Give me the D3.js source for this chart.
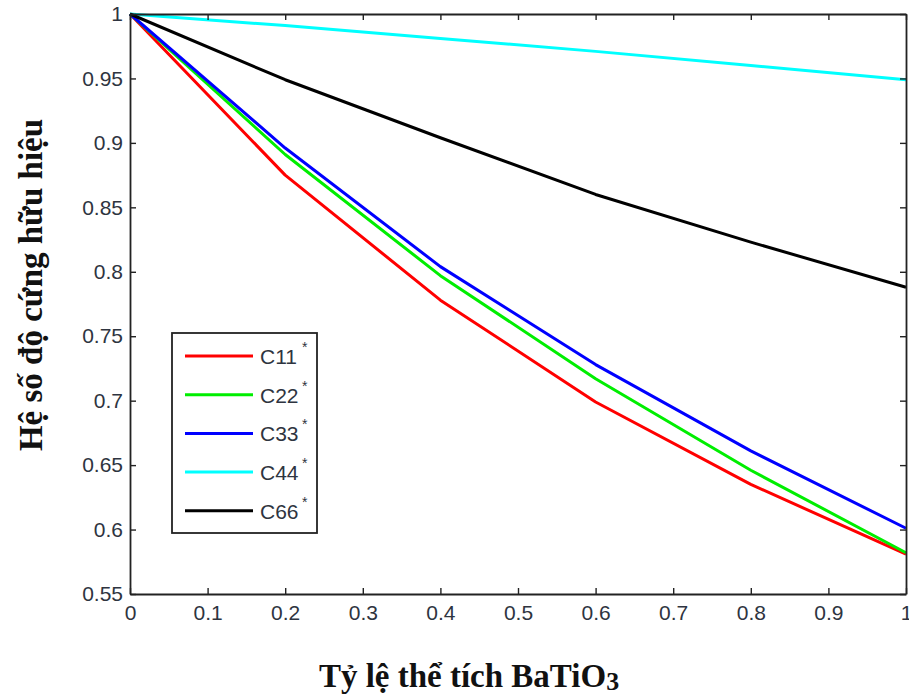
<!DOCTYPE html>
<html>
<head>
<meta charset="utf-8">
<script src="https://cdn.jsdelivr.net/npm/d3@7"></script>
<style>
  html, body { margin: 0; padding: 0; background: #fff; }
  svg { display: block; }
</style>
</head>
<body>
<svg id="chart" width="909" height="697"></svg>
<script>
// ---- Data ----
const xValues = [0, 0.2, 0.4, 0.6, 0.8, 1.0];
const seriesNames = ["C11", "C22", "C33", "C44", "C66"];
const seriesColors = ["#ff0000", "#00ee00", "#0000ff", "#00ffff", "#000000"];
const c11 = [1, 0.875, 0.778, 0.699, 0.635, 0.581];
const c22 = [1, 0.891, 0.797, 0.717, 0.646, 0.582];
const c33 = [1, 0.896, 0.804, 0.728, 0.661, 0.601];
const c44 = [1, 0.991, 0.981, 0.971, 0.960, 0.949];
const c66 = [1, 0.949, 0.904, 0.860, 0.823, 0.788];
const xTicks = [0, 0.1, 0.2, 0.3, 0.4, 0.5, 0.6, 0.7, 0.8, 0.9, 1];
const yTicks = [0.55, 0.6, 0.65, 0.7, 0.75, 0.8, 0.85, 0.9, 0.95, 1];
const xTitle = "Tỷ lệ thể tích BaTiO";
const xTitleSub = "3";
const yTitle = "Hệ số độ cứng hữu hiệu";

const allSeries = [c11, c22, c33, c44, c66];

// ---- Layout ----
const svg = d3.select("#chart");
const L = 130, R = 906, T = 14, B = 594;
const x = d3.scaleLinear().domain([0, 1]).range([L, R]);
const y = d3.scaleLinear().domain([0.55, 1]).range([B, T]);
const axisColor = "#222";
const labelColor = "#2e3440";
const tickFont = "Liberation Sans, Arial, sans-serif";

// Lines
const line = d3.line().x((d, i) => x(xValues[i])).y(d => y(d));
const plot = svg.append("g");
allSeries.forEach((s, k) => {
  plot.append("path")
    .datum(s)
    .attr("d", line)
    .attr("fill", "none")
    .attr("stroke", seriesColors[k])
    .attr("stroke-width", 3)
    .attr("stroke-linejoin", "round");
});

// Axes (inward ticks, box)
function styleAxis(g) {
  g.select(".domain").attr("stroke", axisColor).attr("stroke-width", 1.8);
  g.selectAll(".tick line").attr("stroke", axisColor).attr("stroke-width", 1.4);
  g.selectAll(".tick text").attr("fill", labelColor)
    .attr("font-family", tickFont).attr("font-size", 21);
}
const xAxis = svg.append("g").attr("transform", `translate(0,${B})`)
  .call(d3.axisBottom(x).tickValues(xTicks).tickSize(-6).tickPadding(11)
        .tickFormat(d => d3.format("")(+d.toFixed(1))).tickSizeOuter(0));
styleAxis(xAxis);
const xAxisTop = svg.append("g").attr("transform", `translate(0,${T})`)
  .call(d3.axisTop(x).tickValues(xTicks).tickSize(-6).tickFormat("").tickSizeOuter(0));
styleAxis(xAxisTop);
const yAxis = svg.append("g").attr("transform", `translate(${L},0)`)
  .call(d3.axisLeft(y).tickValues(yTicks).tickSize(-6).tickPadding(7)
        .tickFormat(d => d3.format("")(+d.toFixed(2))).tickSizeOuter(0));
styleAxis(yAxis);
const yAxisRight = svg.append("g").attr("transform", `translate(${R},0)`)
  .call(d3.axisRight(y).tickValues(yTicks).tickSize(-6).tickFormat("").tickSizeOuter(0));
styleAxis(yAxisRight);

// Legend
const lg = svg.append("g");
const lgX = 172, lgY = 333, lgW = 145, lgH = 200;
lg.append("rect").attr("x", lgX).attr("y", lgY).attr("width", lgW).attr("height", lgH)
  .attr("fill", "#fff").attr("stroke", axisColor).attr("stroke-width", 1.8);
seriesNames.forEach((name, i) => {
  const yy = 356 + i * 38.7;
  lg.append("line").attr("x1", 185).attr("x2", 253).attr("y1", yy).attr("y2", yy)
    .attr("stroke", seriesColors[i]).attr("stroke-width", 3);
  lg.append("text").attr("x", 260).attr("y", yy + 8)
    .attr("font-family", tickFont).attr("font-size", 21).attr("fill", labelColor)
    .text(name);
  lg.append("text").attr("x", 302).attr("y", yy - 4)
    .attr("font-family", tickFont).attr("font-size", 14).attr("fill", labelColor)
    .text("*");
});

// Titles
const xt = svg.append("text").attr("x", 469).attr("y", 687)
  .attr("text-anchor", "middle")
  .attr("font-family", "Liberation Serif, Times New Roman, serif")
  .attr("font-weight", "bold").attr("font-size", 33).attr("fill", "#111");
xt.append("tspan").text(xTitle);
xt.append("tspan").attr("font-size", 26).attr("dy", 3).text(xTitleSub);

svg.append("text")
  .attr("transform", "translate(42,285) rotate(-90)")
  .attr("text-anchor", "middle")
  .attr("font-family", "Liberation Serif, Times New Roman, serif")
  .attr("font-weight", "bold").attr("font-size", 33).attr("fill", "#111")
  .text(yTitle);
</script>
</body>
</html>
